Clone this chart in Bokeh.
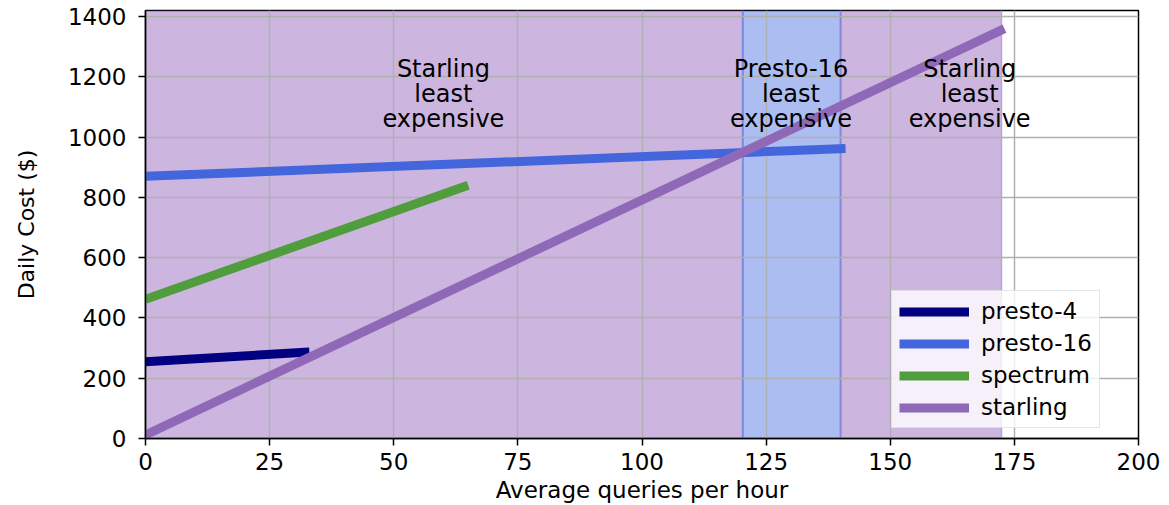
from bokeh.plotting import figure
from bokeh.models import Range1d, BoxAnnotation, Span, Legend, LegendItem, FixedTicker, ColumnDataSource
from bokeh.core.properties import value
from bokeh.embed import file_html
from bokeh.resources import INLINE

# ---- data ----
series_names = ["presto-4", "presto-16", "spectrum", "starling"]
series_x = [[0, 33], [0, 141], [0, 65], [0, 173]]
series_y = [[255, 287], [870, 962], [462, 840], [12, 1360]]
series_colors = ["#000080", "#4466dd", "#4f9d3d", "#9068b8"]

region_starts = [0, 120.3, 140]
region_ends = [120.3, 140, 172.4]
region_colors = ["#9467bd", "#4169e1", "#9467bd"]
region_alpha = [0.48, 0.44, 0.48]

label_x = [60, 130, 166]
label_y = [1272, 1272, 1272]
label_text = ["Starling\nleast\nexpensive", "Presto-16\nleast\nexpensive", "Starling\nleast\nexpensive"]

x_ticks = [0, 25, 50, 75, 100, 125, 150, 175, 200]
y_ticks = [0, 200, 400, 600, 800, 1000, 1200, 1400]

FONT = "DejaVu Sans"

p = figure(width=1169, height=505, output_backend="svg", toolbar_location=None,
           x_range=Range1d(0, 200), y_range=Range1d(0, 1420))
p.min_border_left = 145
p.min_border_right = 31
p.min_border_top = 10
p.min_border_bottom = 67

p.outline_line_color = "black"
p.outline_line_width = 1.5
p.background_fill_color = "white"

# shaded regions
for s, e, c, a in zip(region_starts, region_ends, region_colors, region_alpha):
    p.add_layout(BoxAnnotation(left=s, right=e, fill_color=c, fill_alpha=a,
                               line_color=None, level="image"))
# band edges
p.add_layout(Span(location=region_starts[1], dimension="height", line_color="#7a8ae0", line_width=2, level="image"))
p.add_layout(Span(location=region_ends[1], dimension="height", line_color="#8a86d8", line_width=2, level="image"))
p.add_layout(Span(location=region_ends[2], dimension="height", line_color="#b9a2d6", line_width=1.5, level="image"))

# grid
for g in (p.xgrid, p.ygrid):
    g.grid_line_color = "#b0b0b0"
    g.grid_line_width = 1.5
    g.level = "underlay"

# axes
p.xaxis.ticker = FixedTicker(ticks=x_ticks)
p.yaxis.ticker = FixedTicker(ticks=y_ticks)
for ax in (p.xaxis, p.yaxis):
    ax.axis_line_color = "black"
    ax.axis_line_width = 1.5
    ax.major_tick_line_color = "black"
    ax.major_tick_line_width = 1.5
    ax.major_tick_out = 7
    ax.major_tick_in = 0
    ax.minor_tick_line_color = None
    ax.major_label_text_font = FONT
    ax.major_label_text_font_size = "23px"
    ax.major_label_text_color = "black"
    ax.axis_label_text_font = FONT
    ax.axis_label_text_font_style = "normal"
    ax.axis_label_text_color = "black"
p.xaxis.major_label_standoff = 7
p.yaxis.major_label_standoff = 12
p.xaxis.axis_label = "Average queries per hour"
p.xaxis.axis_label_text_font_size = "23px"
p.xaxis.axis_label_standoff = 4
p.yaxis.axis_label = "Daily Cost ($)"
p.yaxis.axis_label_text_font_size = "22px"
p.yaxis.axis_label_standoff = 26

# lines
items = []
for name, xs, ys, c in zip(series_names, series_x, series_y, series_colors):
    r = p.line(xs, ys, line_color=c, line_width=9, line_cap="butt")
    items.append(LegendItem(label=name, renderers=[r]))

# annotations
src = ColumnDataSource(dict(x=label_x, y=label_y, t=label_text))
p.text(x="x", y="y", text="t", source=src, text_align="center", text_baseline="top",
       text_font=value(FONT), text_font_size="24px", text_color="black", text_line_height=0.9)

legend = Legend(items=items, location=(746, 10), orientation="vertical")
legend.glyph_width = 70
legend.glyph_height = 25
legend.label_height = 25
legend.spacing = 6
legend.padding = 7
legend.margin = 0
legend.label_standoff = 12
legend.label_text_font = FONT
legend.label_text_font_size = "23px"
legend.label_text_color = "black"
legend.background_fill_color = "white"
legend.background_fill_alpha = 0.8
legend.border_line_color = "#cccccc"
legend.border_line_width = 1.5
p.add_layout(legend, "center")

open("out.html", "w").write(file_html(p, INLINE))
